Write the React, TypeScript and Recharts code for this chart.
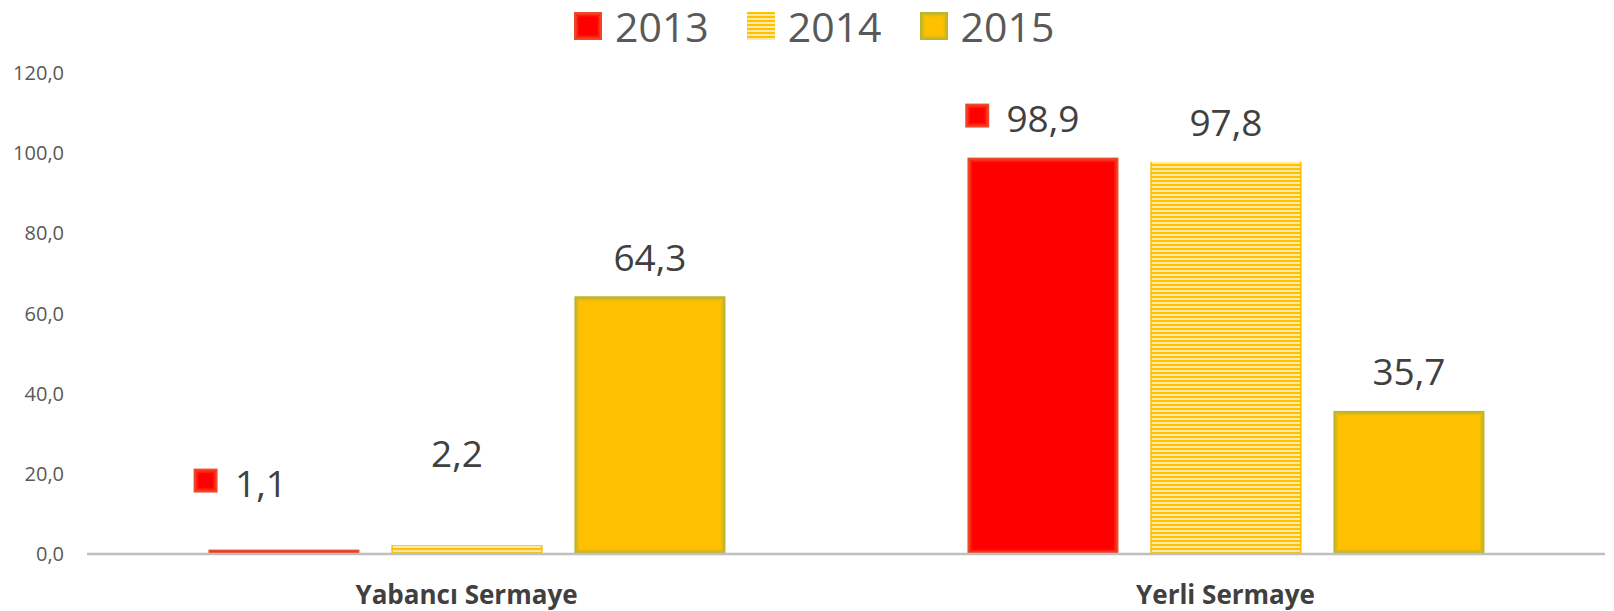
import { Bar, BarChart, LabelList, XAxis, YAxis } from "recharts";

// Excel export: foreign vs domestic capital share, 2013-2015
const categories = ["Yabancı Sermaye", "Yerli Sermaye"];
const years = ["2013", "2014", "2015"];
const values2013 = [1.1, 98.9];
const values2014 = [2.2, 97.8];
const values2015 = [64.3, 35.7];
const yTicks = [0, 20, 40, 60, 80, 100, 120];

const rows = categories.map((name, i) => ({
  name,
  y2013: values2013[i],
  y2014: values2014[i],
  y2015: values2015[i],
}));

const FONT = "'Open Sans', 'DejaVu Sans', sans-serif";
const LABEL_SIZE = 37;

// Excel left the two small labels where the user dragged them
const labelNudge: Record<string, [number, number]> = {
  "y2013-0": [-23, -27],
  "y2014-0": [-10, -53],
};

const fmt = (v: number) => v.toFixed(1).replace(".", ",");

// soft-edged rect, like Excel's "glow" fill
function edgeRect(x: number, y: number, w: number, h: number, steps: string[]) {
  return steps.map((c, i) => {
    const inset = i * 1.5;
    const ww = Math.max(0, w - inset * 2);
    const hh = Math.max(0, h - inset * 2);
    if (ww <= 0 || hh <= 0) return null;
    return <rect key={i} x={x + inset} y={y + inset} width={ww} height={hh} fill={c} />;
  });
}

const redSteps = ["#ee4d2d", "#f5361d", "#fb1a0c", "#ff0000"];
const goldSteps = ["#b8b52e", "#d1b71f", "#e9bc0e", "#ffc000"];

const RedBar = (p: any) => <g>{edgeRect(p.x, p.y, p.width, p.height, redSteps)}</g>;
const GoldBar = (p: any) => <g>{edgeRect(p.x, p.y, p.width, p.height, goldSteps)}</g>;
const StripeBar = (p: any) => (
  <g>
    <rect x={p.x} y={p.y} width={p.width} height={p.height} fill="url(#stripes)" />
    <rect x={p.x} y={p.y} width={1.5} height={p.height} fill="#ffc000" />
    <rect x={p.x + p.width - 1.5} y={p.y} width={1.5} height={p.height} fill="#ffc000" />
  </g>
);

function makeLabel(key: string, withKey: boolean) {
  return (props: any) => {
    const { x, y, width, value, index } = props;
    const [dx, dy] = labelNudge[`${key}-${index}`] ?? [0, 0];
    const cx = x + width / 2 + dx;
    const cy = y - 40 + dy;
    const text = fmt(Number(value));
    const textW = (text.length - 1) * 0.56 * LABEL_SIZE + 0.25 * LABEL_SIZE;
    return (
      <g>
        {withKey && (
          <g>{edgeRect(cx - textW / 2 - 18 - 24, cy - 14, 24, 24, redSteps)}</g>
        )}
        <text
          x={cx}
          y={cy}
          textAnchor="middle"
          dominantBaseline="central"
          fill="#404040"
          fontSize={LABEL_SIZE}
          fontFamily={FONT}
        >
          {text}
        </text>
      </g>
    );
  };
}

function LegendKey({ i }: { i: number }) {
  return (
    <svg width={28} height={28} style={{ display: "block" }}>
      {i === 0 && edgeRect(0, 0, 28, 28, redSteps)}
      {i === 1 && <rect x={0} y={0} width={28} height={28} fill="url(#stripesLegend)" />}
      {i === 2 && edgeRect(0, 0, 28, 28, goldSteps)}
    </svg>
  );
}

export default function App() {
  return (
    <div
      style={{
        position: "absolute",
        left: 0,
        top: 0,
        width: 1614,
        height: 611,
        background: "#fff",
        fontFamily: FONT,
      }}
    >
      <svg width={0} height={0} style={{ position: "absolute" }}>
        <defs>
          <pattern id="stripesLegend" width={4} height={4} patternUnits="userSpaceOnUse">
            <rect width={4} height={4} fill="#ffe9a8" />
            <rect width={4} height={2} fill="#ffc000" />
          </pattern>
        </defs>
      </svg>
      <div
        style={{
          position: "absolute",
          left: 574,
          top: 0,
          height: 52,
          display: "flex",
          alignItems: "center",
          zIndex: 2,
        }}
      >
        {years.map((yr, i) => (
          <div key={yr} style={{ display: "flex", alignItems: "center", marginRight: 38 }}>
            <LegendKey i={i} />
            <span style={{ fontSize: 41, color: "#595959", marginLeft: 13, lineHeight: "52px" }}>
              {yr}
            </span>
          </div>
        ))}
      </div>
      <BarChart
        width={1614}
        height={611}
        data={rows}
        margin={{ top: 73, right: 9, bottom: 0, left: 0 }}
        barCategoryGap="16%"
        barGap={32}
      >
        <defs>
          <pattern id="stripes" width={4} height={4} patternUnits="userSpaceOnUse">
            <rect width={4} height={4} fill="#ffe9a8" />
            <rect width={4} height={2} fill="#ffc000" />
          </pattern>
        </defs>
        <XAxis
          dataKey="name"
          height={57}
          tickSize={0}
          tickMargin={32}
          tickLine={false}
          axisLine={{ stroke: "#bfbfbf", strokeWidth: 2.5 }}
          tick={{ fill: "#404040", fontSize: 26, fontWeight: 700, fontFamily: FONT }}
        />
        <YAxis
          width={87}
          domain={[0, 120]}
          ticks={yTicks}
          tickFormatter={fmt}
          tickSize={0}
          tickMargin={23}
          tickLine={false}
          axisLine={false}
          tick={{ fill: "#595959", fontSize: 20, fontFamily: FONT }}
        />
        <Bar dataKey="y2013" shape={RedBar} isAnimationActive={false}>
          <LabelList dataKey="y2013" content={makeLabel("y2013", true)} />
        </Bar>
        <Bar dataKey="y2014" shape={StripeBar} isAnimationActive={false}>
          <LabelList dataKey="y2014" content={makeLabel("y2014", false)} />
        </Bar>
        <Bar dataKey="y2015" shape={GoldBar} isAnimationActive={false}>
          <LabelList dataKey="y2015" content={makeLabel("y2015", false)} />
        </Bar>
      </BarChart>
    </div>
  );
}
